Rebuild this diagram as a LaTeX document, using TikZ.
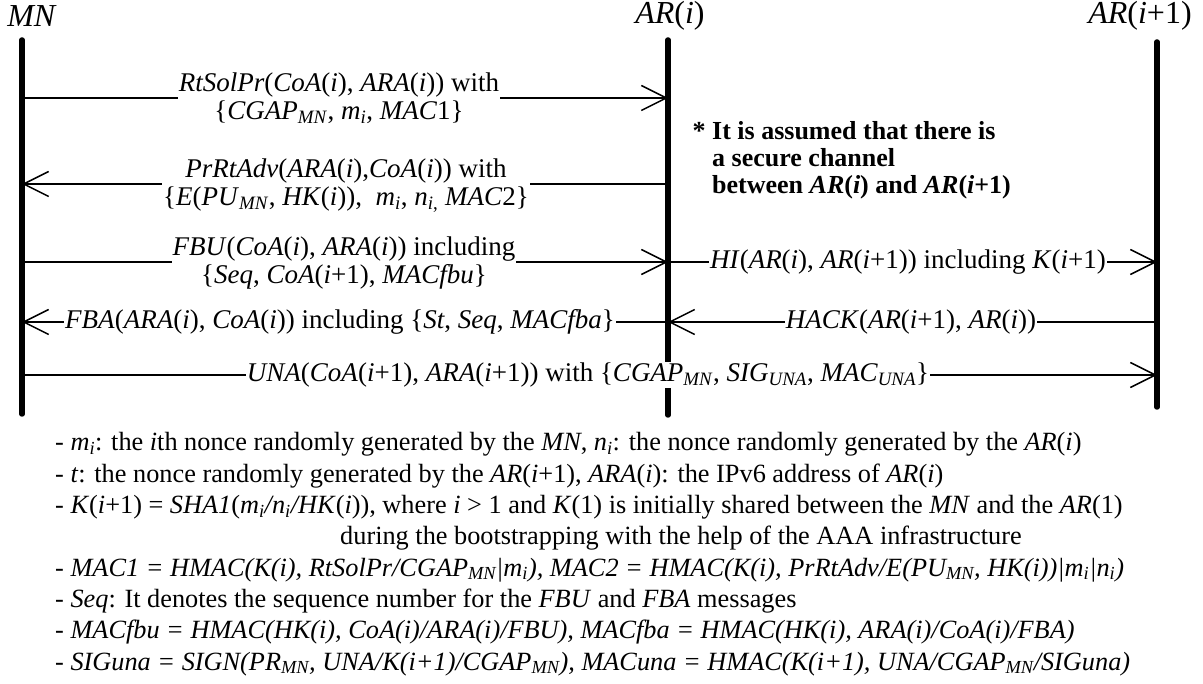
\documentclass[tikz,border=0pt]{standalone}
\usepackage{fontspec}
\setmainfont{Liberation Serif}
\usetikzlibrary{arrows.meta}
\newcommand\lsub[1]{\textsubscript{\textit{#1}}}
\tikzset{
  lifeline/.style={line width=5.5pt, line cap=round},
  msg/.style={line width=1.5pt, -{Straight Barb[length=25pt,width=25pt,line width=1.5pt]}},
  lbl/.style={fill=white, inner xsep=1pt, inner ysep=1pt, align=center,
              font=\fontsize{27}{28}\selectfont},
  actor/.style={inner sep=0pt, font=\fontsize{32}{33}\selectfont},
  note/.style={anchor=north west, inner sep=0pt, align=left,
               font=\fontsize{26}{27}\selectfont\bfseries},
  fn/.style={anchor=base west, inner sep=0pt, font=\fontsize{26.3}{27}\selectfont}
}
\begin{document}
\begin{tikzpicture}[x=1pt, y=-1pt]
\path[use as bounding box] (0,0) rectangle (1203,684);

% participants
\node[actor] (mn)  at (32,16)   {\textit{MN}};
\node[actor] (ari) at (670,16)  {\textit{AR}(\textit{i})};
\node[actor] (arj) at (1140,16) {\textit{AR}(\textit{i}+1)};

% lifelines
\coordinate (mnT) at (22,40);   \coordinate (mnB) at (22,414);
\coordinate (aiT) at (668,40);  \coordinate (aiB) at (668,415);
\coordinate (ajT) at (1157,42); \coordinate (ajB) at (1157,407);
\draw[lifeline] (mnT) -- (mnB);
\draw[lifeline] (aiT) -- (aiB);
\draw[lifeline] (ajT) -- (ajB);

% anchor points of the messages on the lifelines
\foreach \n/\y in {1/98, 2/184, 3/262, 4/322, 5/375} {
  \coordinate (mn\n) at (22,\y);
  \coordinate (ai\n) at (668,\y);
  \coordinate (aj\n) at (1157,\y);
}

% messages
\draw[msg] (mn1) -- (ai1);
\draw[msg] (ai2) -- (mn2);
\draw[msg] (mn3) -- (ai3);
\draw[msg] (ai3) -- (aj3);
\draw[msg] (ai4) -- (mn4);
\draw[msg] (aj4) -- (ai4);
\draw[msg] (mn5) -- (aj5);

% message labels
\node[lbl] (l1) at (339,98)
  {\textit{RtSolPr}(\textit{CoA}(\textit{i}), \textit{ARA}(\textit{i})) with\\
   \{\textit{CGAP}\lsub{MN}, \textit{m}\lsub{i}, \textit{MAC}1\}};
\node[lbl] (l2) at (346,186)
  {\textit{PrRtAdv}(\textit{ARA}(\textit{i}),\textit{CoA}(\textit{i})) with\\
   \{\textit{E}(\textit{PU}\lsub{MN}, \textit{HK}(\textit{i})),\ \ \textit{m}\lsub{i}, \textit{n}\textsubscript{\textit{i},} \textit{MAC}2\}};
\node[lbl] (l3) at (344,263)
  {\textit{FBU}(\textit{CoA}(\textit{i}), \textit{ARA}(\textit{i})) including\\
   \{\textit{Seq}, \textit{CoA}(\textit{i}+1), \textit{MACfbu}\}};
\node[lbl] (l4) at (908,262)
  {\textit{HI}(\textit{AR}(\textit{i}), \textit{AR}(\textit{i}+1)) including \textit{K}(\textit{i}+1)};
\node[lbl] (l5) at (340,322)
  {\textit{FBA}(\textit{ARA}(\textit{i}), \textit{CoA}(\textit{i})) including \{\textit{St}, \textit{Seq}, \textit{MACfba}\}};
\node[lbl] (l6) at (911,322)
  {\textit{HACK}(\textit{AR}(\textit{i}+1), \textit{AR}(\textit{i}))};
\node[lbl] (l7) at (588,375)
  {\textit{UNA}(\textit{CoA}(\textit{i}+1), \textit{ARA}(\textit{i}+1)) with \{\textit{CGAP}\lsub{MN}, \textit{SIG}\lsub{UNA}, \textit{MAC}\lsub{UNA}\}};

% note on the channel between the routers
\node[note] (nt) at (712,121)
  {\llap{* }It is assumed that there is\\
   a secure channel\\
   between \textit{AR}(\textit{i}) and \textit{AR}(\textit{i}+1)};

% legend
\node[fn] (f1) at (55,451) {- \textit{m}\lsub{i}: the \textit{i}th nonce randomly generated by the \textit{MN}, \textit{n}\lsub{i}: the nonce randomly generated by the \textit{AR}(\textit{i})};
\node[fn] (f2) at (55,482.3) {- \textit{t}: the nonce randomly generated by the \textit{AR}(\textit{i}+1), \textit{ARA}(\textit{i}): the IPv6 address of \textit{AR}(\textit{i})};
\node[fn] (f3) at (55,513.6) {- \textit{K}(\textit{i}+1) = \textit{SHA1}(\textit{m}\lsub{i}\textit{/n}\lsub{i}\textit{/HK}(\textit{i})), where \textit{i} > 1 and \textit{K}(1) is initially shared between the \textit{MN} and the \textit{AR}(1)};
\node[fn] (f4) at (340,544.9) {during the bootstrapping with the help of the AAA infrastructure};
\node[fn] (f5) at (55,576.2) {- \textit{MAC1 = HMAC(K(i), RtSolPr/CGAP\lsub{MN}|m\lsub{i}), MAC2 = HMAC(K(i), PrRtAdv/E(PU\lsub{MN}, HK(i))|m\lsub{i}|n\lsub{i})}};
\node[fn] (f6) at (55,607.5) {- \textit{Seq}: It denotes the sequence number for the \textit{FBU} and \textit{FBA} messages};
\node[fn] (f7) at (55,638.8) {- \textit{MACfbu = HMAC(HK(i), CoA(i)/ARA(i)/FBU), MACfba = HMAC(HK(i), ARA(i)/CoA(i)/FBA)}};
\node[fn] (f8) at (55,670.1) {- \textit{SIGuna = SIGN(PR\lsub{MN}, UNA/K(i+1)/CGAP\lsub{MN}), MACuna = HMAC(K(i+1), UNA/CGAP\lsub{MN}/SIGuna)}};
\end{tikzpicture}
\end{document}
